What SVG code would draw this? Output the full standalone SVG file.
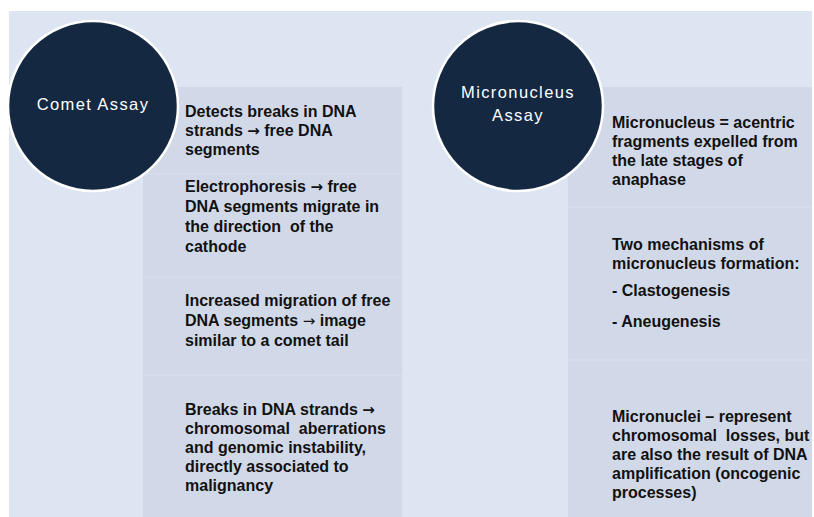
<svg xmlns="http://www.w3.org/2000/svg" width="814" height="517" viewBox="0 0 814 517">
  <style>
    .panel { fill: #dce5f1; }
    .col { fill: #d1d9e8; }
    .band { fill: #d5dcea; }
    .disc { fill: #142841; stroke: #ffffff; stroke-width: 2.5; }
    .title { font-family: "Liberation Sans", Arial, sans-serif; font-size: 16.5px; fill: #ffffff; letter-spacing: 1.4px; text-anchor: middle; }
    .body { font-family: "Liberation Sans", Arial, sans-serif; font-size: 16px; font-weight: bold; fill: #111111; white-space: pre; }
    .arw { font-family: "DejaVu Sans", sans-serif; font-size: 15px; }
    .thin { font-family: "DejaVu Sans", sans-serif; font-size: 15px; font-weight: normal; }
  </style>
  <rect width="814" height="517" fill="#ffffff"/>
  <rect class="panel" x="9" y="11" width="803" height="506"/>

  <!-- Comet assay column -->
  <g id="comet-list">
    <rect class="col" x="143" y="87" width="259" height="430"/>
    <rect class="band" x="143" y="173" width="259" height="2"/>
    <rect class="band" x="143" y="276" width="259" height="2"/>
    <rect class="band" x="143" y="374" width="259" height="2"/>
    <text class="body" x="185" y="117">Detects breaks in DNA</text>
    <text class="body" x="185" y="136">strands <tspan class="arw">→</tspan> free DNA</text>
    <text class="body" x="185" y="155">segments</text>
    <text class="body" x="185" y="192">Electrophoresis <tspan class="arw">→</tspan> free</text>
    <text class="body" x="185" y="212">DNA segments migrate in</text>
    <text class="body" x="185" y="232">the direction  of the</text>
    <text class="body" x="185" y="252">cathode</text>
    <text class="body" x="185" y="306">Increased migration of free</text>
    <text class="body" x="185" y="326">DNA segments <tspan class="thin">→</tspan> image</text>
    <text class="body" x="185" y="346">similar to a comet tail</text>
    <text class="body" x="185" y="415">Breaks in DNA strands <tspan class="arw">→</tspan></text>
    <text class="body" x="185" y="434">chromosomal  aberrations</text>
    <text class="body" x="185" y="453">and genomic instability,</text>
    <text class="body" x="185" y="472">directly associated to</text>
    <text class="body" x="185" y="491">malignancy</text>
  </g>

  <!-- Micronucleus assay column -->
  <g id="micronucleus-list">
    <rect class="col" x="568" y="87" width="244" height="430"/>
    <rect class="band" x="568" y="206" width="244" height="2"/>
    <rect class="band" x="568" y="359" width="244" height="2"/>
    <text class="body" x="612" y="128">Micronucleus = acentric</text>
    <text class="body" x="612" y="147">fragments expelled from</text>
    <text class="body" x="612" y="166">the late stages of</text>
    <text class="body" x="612" y="185">anaphase</text>
    <text class="body" x="612" y="250">Two mechanisms of</text>
    <text class="body" x="612" y="269">micronucleus formation:</text>
    <text class="body" x="612" y="296">- Clastogenesis</text>
    <text class="body" x="612" y="327">- Aneugenesis</text>
    <text class="body" x="612" y="422">Micronuclei – represent</text>
    <text class="body" x="612" y="441">chromosomal  losses, but</text>
    <text class="body" x="612" y="460">are also the result of DNA</text>
    <text class="body" x="612" y="479">amplification (oncogenic</text>
    <text class="body" x="612" y="498">processes)</text>
  </g>

  <!-- Title discs -->
  <g id="comet-assay">
    <circle class="disc" cx="93" cy="106" r="85"/>
    <text class="title" x="93" y="110">Comet Assay</text>
  </g>
  <g id="micronucleus-assay">
    <circle class="disc" cx="518" cy="106" r="85"/>
    <text class="title" x="518" y="98">Micronucleus</text>
    <text class="title" x="518" y="121">Assay</text>
  </g>

  <g id="connectors"/>
</svg>
